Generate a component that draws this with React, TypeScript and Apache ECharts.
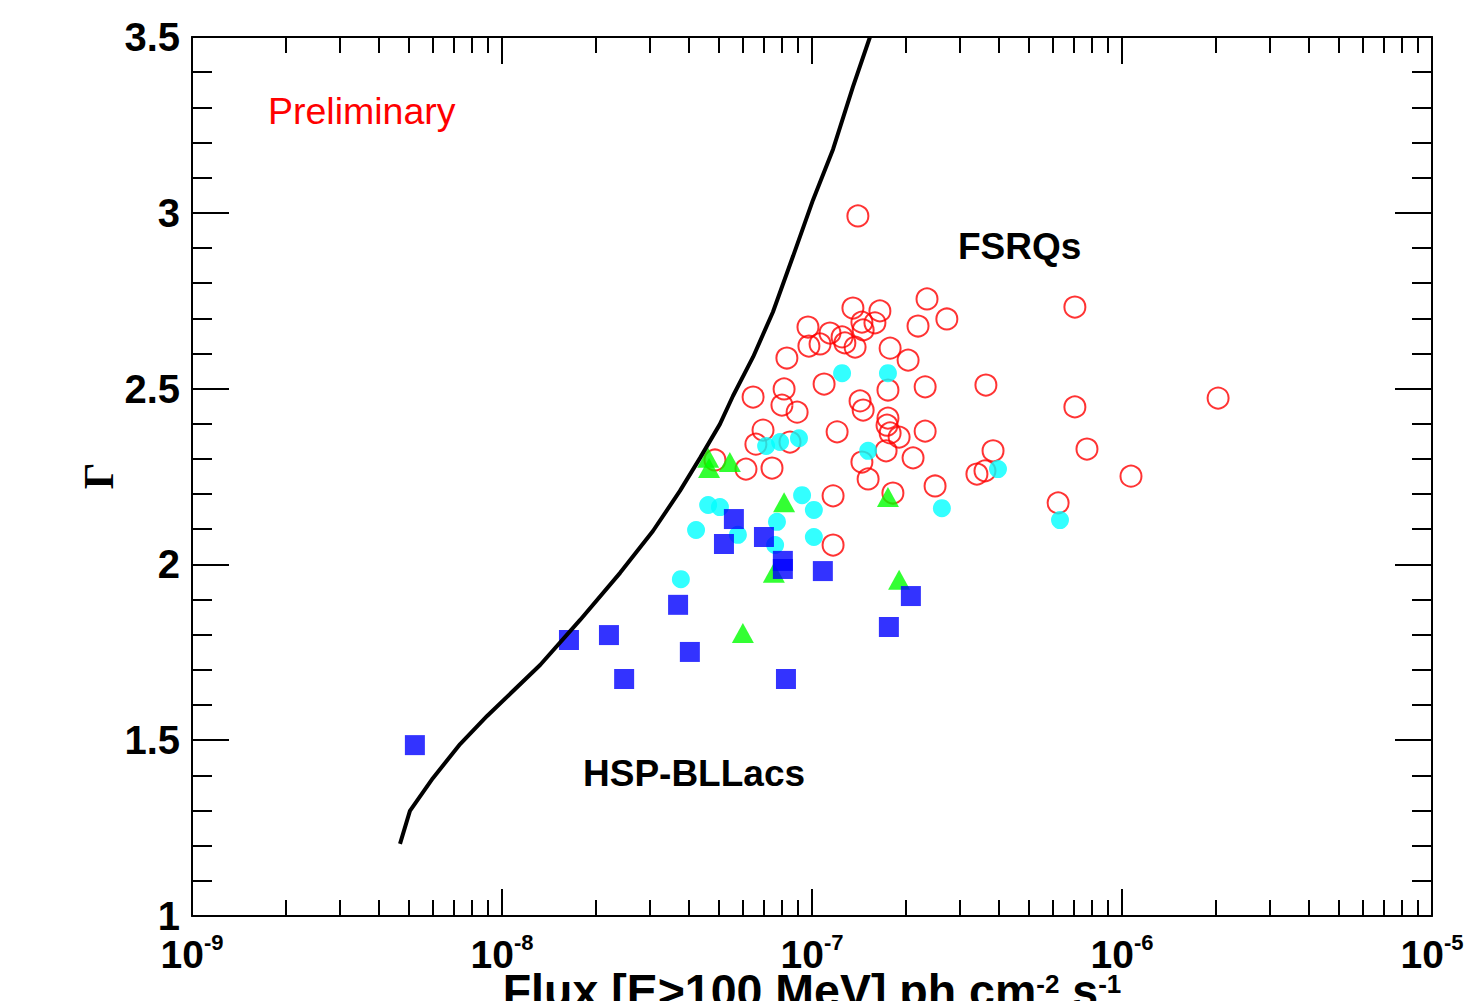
import React, { useEffect, useRef } from 'react';
import * as echarts from 'echarts';

// x values are log10(Flux [E>100 MeV] in ph cm^-2 s^-1), y values are the photon index Gamma
const xDecades = [-9, -8, -7, -6, -5];
const yTicks = [1, 1.5, 2, 2.5, 3, 3.5];
const minorMultipliers = [2, 3, 4, 5, 6, 7, 8, 9];

const fsrqPoints: [number, number][] = [
  [-6.852, 2.991], [-6.868, 2.729], [-6.781, 2.721], [-6.629, 2.755], [-6.565, 2.698],
  [-6.658, 2.678], [-7.013, 2.675], [-7.010, 2.621], [-6.942, 2.658], [-6.903, 2.647],
  [-6.839, 2.689], [-6.797, 2.687], [-6.835, 2.667], [-6.974, 2.627], [-6.894, 2.630],
  [-6.861, 2.618], [-6.748, 2.615], [-6.690, 2.581], [-7.081, 2.587], [-6.961, 2.513],
  [-6.755, 2.496], [-6.635, 2.505], [-6.439, 2.510], [-7.190, 2.476], [-7.090, 2.499],
  [-7.097, 2.453], [-7.048, 2.433], [-6.845, 2.465], [-6.835, 2.439], [-6.755, 2.416],
  [-6.758, 2.396], [-6.748, 2.374], [-6.719, 2.362], [-7.158, 2.382], [-6.919, 2.377],
  [-6.635, 2.379], [-7.181, 2.342], [-7.071, 2.348], [-6.761, 2.323], [-6.416, 2.323],
  [-6.113, 2.328], [-6.152, 2.448], [-6.152, 2.732], [-5.690, 2.473], [-7.213, 2.271],
  [-7.129, 2.274], [-7.313, 2.297], [-6.839, 2.291], [-6.819, 2.243], [-6.674, 2.303],
  [-6.468, 2.257], [-6.442, 2.266], [-6.603, 2.223], [-5.971, 2.251], [-6.206, 2.175],
  [-6.932, 2.195], [-6.739, 2.203], [-6.932, 2.055],
];

const cyanPoints: [number, number][] = [
  [-6.903, 2.544], [-6.755, 2.544], [-7.148, 2.337], [-7.103, 2.348], [-7.042, 2.359],
  [-6.819, 2.323], [-6.400, 2.271], [-7.335, 2.169], [-7.297, 2.163], [-7.032, 2.197],
  [-6.994, 2.155], [-7.374, 2.098], [-7.239, 2.084], [-7.113, 2.121], [-7.119, 2.055],
  [-6.994, 2.078], [-6.581, 2.160], [-6.200, 2.126], [-7.423, 1.958],
];

const greenPoints: [number, number][] = [
  [-7.335, 2.303], [-7.332, 2.274], [-7.265, 2.291], [-7.090, 2.177], [-6.755, 2.192],
  [-6.719, 1.956], [-7.223, 1.805], [-7.123, 1.976],
];

const hspPoints: [number, number][] = [
  [-8.281, 1.486], [-7.784, 1.785], [-7.655, 1.799], [-7.606, 1.674], [-7.432, 1.885],
  [-7.394, 1.751], [-7.284, 2.058], [-7.252, 2.129], [-7.155, 2.078], [-7.094, 2.010],
  [-7.094, 1.987], [-6.965, 1.981], [-7.084, 1.674], [-6.752, 1.822], [-6.681, 1.910],
];

const thresholdCurve: [number, number][] = [
  [-8.329, 1.205], [-8.297, 1.299], [-8.223, 1.392], [-8.135, 1.489], [-8.048, 1.569],
  [-7.877, 1.714], [-7.748, 1.842], [-7.619, 1.976], [-7.513, 2.095], [-7.426, 2.209],
  [-7.361, 2.303], [-7.297, 2.399], [-7.255, 2.479], [-7.190, 2.590], [-7.126, 2.718],
  [-7.061, 2.877], [-6.997, 3.036], [-6.932, 3.181], [-6.868, 3.358], [-6.813, 3.5],
];

const xTitle = '{t|Flux [E>100 MeV] ph cm}{s|-2}{t| s}{s|-1}';
const yTitle = 'Γ';

const SANS = '"Liberation Sans", Arial, Helvetica, sans-serif';
const SERIF = '"Liberation Serif", "DejaVu Serif", serif';

export default function App() {
  const ref = useRef<HTMLDivElement>(null);

  useEffect(() => {
    if (!ref.current) return;
    const chart = echarts.init(ref.current, undefined, { renderer: 'svg' });

    const minorX: number[] = [];
    for (let i = 0; i < xDecades.length - 1; i++) {
      for (const m of minorMultipliers) minorX.push(xDecades[i] + Math.log10(m));
    }

    const black = { color: '#000', width: 2 };
    const xMin = xDecades[0];
    const xMax = xDecades[xDecades.length - 1];
    const yMin = yTicks[0];
    const yMax = yTicks[yTicks.length - 1];

    const baseX = {
      type: 'value' as const,
      min: xMin,
      max: xMax,
      interval: 1,
      splitLine: { show: false },
    };

    const labelRich = {
      b: { fontFamily: SANS, fontWeight: 'bold', fontSize: 39, lineHeight: 34, color: '#000', padding: [13, 0, 0, 0] },
      s: { fontFamily: SANS, fontWeight: 'bold', fontSize: 22, lineHeight: 14, color: '#000', verticalAlign: 'top' },
    };

    const option: any = {
      animation: false,
      backgroundColor: '#fff',
      grid: { left: 192, right: 34, top: 37, bottom: 85, containLabel: false, outerBoundsMode: 'none' },
      xAxis: [
        {
          ...baseX,
          position: 'bottom',
          axisLine: { show: true, onZero: false, lineStyle: black },
          axisTick: { show: true, inside: true, length: 27, lineStyle: black },
          axisLabel: {
            show: true,
            margin: 15,
            formatter: (v: number) => `{b|10}{s|${v}}`,
            rich: labelRich,
          },
          name: xTitle,
          nameLocation: 'middle',
          nameGap: 55,
          nameMoveOverlap: false,
          nameTextStyle: {
            rich: {
              t: { fontFamily: SANS, fontWeight: 'bold', fontSize: 46.5, lineHeight: 40, color: '#000' },
              s: { fontFamily: SANS, fontWeight: 'bold', fontSize: 26, lineHeight: 16, color: '#000', verticalAlign: 'top' },
            },
          },
        },
        {
          ...baseX,
          position: 'bottom',
          axisLine: { show: false, onZero: false },
          axisTick: { show: true, inside: true, length: 16, lineStyle: black, customValues: minorX },
          axisLabel: { show: false },
        },
        {
          ...baseX,
          position: 'top',
          axisLine: { show: true, onZero: false, lineStyle: black },
          axisTick: { show: true, inside: true, length: 27, lineStyle: black },
          axisLabel: { show: false },
        },
        {
          ...baseX,
          position: 'top',
          axisLine: { show: false, onZero: false },
          axisTick: { show: true, inside: true, length: 16, lineStyle: black, customValues: minorX },
          axisLabel: { show: false },
        },
      ],
      yAxis: [
        {
          type: 'value',
          min: yMin,
          max: yMax,
          interval: 0.5,
          position: 'left',
          splitLine: { show: false },
          axisLine: { show: true, onZero: false, lineStyle: black },
          axisTick: { show: true, inside: true, length: 37, lineStyle: black },
          minorTick: { show: true, splitNumber: 5, length: 20, lineStyle: black },
          axisLabel: {
            show: true,
            margin: 12,
            fontFamily: SANS,
            fontWeight: 'bold',
            fontSize: 40,
            lineHeight: 26,
            color: '#000',
            formatter: (v: number) => String(v),
          },
        },
        {
          type: 'value',
          min: yMin,
          max: yMax,
          interval: 0.5,
          position: 'right',
          splitLine: { show: false },
          axisLine: { show: true, onZero: false, lineStyle: black },
          axisTick: { show: true, inside: true, length: 37, lineStyle: black },
          minorTick: { show: true, splitNumber: 5, length: 20, lineStyle: black },
          axisLabel: { show: false },
        },
      ],
      series: [
        {
          name: 'FSRQs',
          type: 'scatter',
          data: fsrqPoints,
          symbol: 'circle',
          symbolSize: 21,
          itemStyle: { color: 'rgba(0,0,0,0)', borderColor: '#ff0000', borderWidth: 2 },
          z: 2,
        },
        {
          name: 'cyan',
          type: 'scatter',
          data: cyanPoints,
          symbol: 'circle',
          symbolSize: 18,
          itemStyle: { color: '#00ffff' },
          z: 3,
        },
        {
          name: 'green',
          type: 'scatter',
          data: greenPoints,
          symbol: 'triangle',
          symbolSize: [22, 20],
          itemStyle: { color: '#00ff00' },
          z: 4,
        },
        {
          name: 'HSP-BLLacs',
          type: 'scatter',
          data: hspPoints,
          symbol: 'rect',
          symbolSize: 20,
          itemStyle: { color: '#0000ff' },
          z: 5,
        },
        {
          name: 'threshold',
          type: 'line',
          data: thresholdCurve,
          showSymbol: false,
          symbol: 'none',
          smooth: false,
          lineStyle: { color: '#000', width: 4 },
          z: 6,
        },
      ],
      graphic: [
        {
          type: 'text',
          x: 99,
          y: 476,
          rotation: Math.PI / 2,
          style: { x: 0, y: 0, text: yTitle, fill: '#000', font: `bold 42px ${SERIF}`, align: 'center', verticalAlign: 'middle' },
        },
        {
          type: 'text',
          style: { x: 268, y: 111, text: 'Preliminary', fill: '#ff0000', font: `37.5px ${SANS}`, verticalAlign: 'middle' },
        },
        {
          type: 'text',
          style: { x: 958, y: 246, text: 'FSRQs', fill: '#000', font: `bold 37px ${SANS}`, verticalAlign: 'middle' },
        },
        {
          type: 'text',
          style: { x: 583, y: 773, text: 'HSP-BLLacs', fill: '#000', font: `bold 37px ${SANS}`, verticalAlign: 'middle' },
        },
      ],
    };

    chart.setOption(option);
    return () => chart.dispose();
  }, []);

  return (
    <div
      ref={ref}
      style={{ position: 'fixed', left: 0, top: 0, width: 1466, height: 1001, background: '#fff' }}
    />
  );
}
